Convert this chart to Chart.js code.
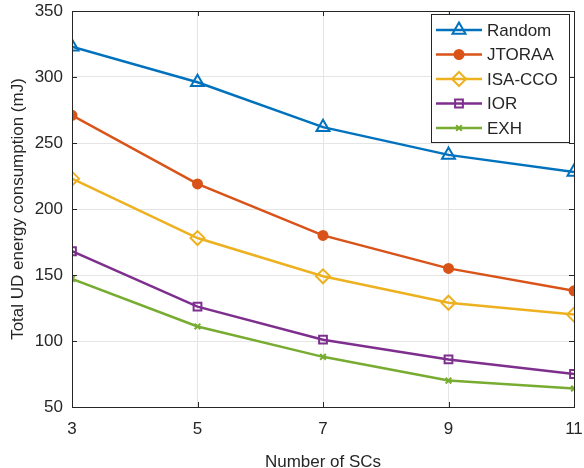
<!DOCTYPE html>
<html>
<head>
<meta charset="utf-8">
<script src="https://cdn.jsdelivr.net/npm/chart.js@4.4.1/dist/chart.umd.min.js"></script>
<style>
    html, body { margin: 0; padding: 0; background: #ffffff; }
    canvas { display: block; }
</style>
</head>
<body>
<canvas id="energy" width="584" height="468"></canvas>
<script>
var scCounts = [3, 5, 7, 9, 11];
var randomMJ = [323, 296, 262, 241, 228];
var jtoraaMJ = [271, 219, 180, 155, 138];
var isaCcoMJ = [223, 178, 149, 129, 120];
var iorMJ = [168, 126, 101, 86, 75];
var exhMJ = [147, 111, 88, 70, 64];

var xTicks = [3, 5, 7, 9, 11];
var yTicks = [50, 100, 150, 200, 250, 300, 350];

var axisColor = '#262626';
var fontFamily = '"Liberation Sans", Arial, Helvetica, sans-serif';

var toPoints = function(values) {
    return values.map(function(v, i) {
        return {x: scCounts[i], y: v};
    });
};

var makeSeries = function(label, values, color, style, radius, filled) {
    var fillColor = filled ? color : 'rgba(255,255,255,0)';
    return {
        label: label,
        data: toPoints(values),
        borderColor: color,
        backgroundColor: fillColor,
        borderWidth: 2.5,
        pointStyle: style,
        pointRadius: radius,
        pointHoverRadius: radius,
        pointBorderWidth: 2,
        pointBorderColor: color,
        pointBackgroundColor: fillColor,
        tension: 0,
        fill: false
    };
};

// box round the axes, inward tick marks, legend in the upper right
var matlabAxes = {
    id: 'matlabAxes',
    afterDatasetsDraw: function(chart) {
        var ctx = chart.ctx;
        var a = chart.chartArea;
        var xs = chart.scales.x, ys = chart.scales.y;
        ctx.save();
        ctx.strokeStyle = axisColor;
        ctx.lineWidth = 1;
        ctx.beginPath();
        ctx.rect(Math.round(a.left) + 0.5, Math.round(a.top) + 0.5,
            Math.round(a.right - a.left), Math.round(a.bottom - a.top));
        xTicks.forEach(function(t) {
            var px = Math.round(xs.getPixelForValue(t)) + 0.5;
            ctx.moveTo(px, a.bottom); ctx.lineTo(px, a.bottom - 5);
            ctx.moveTo(px, a.top); ctx.lineTo(px, a.top + 5);
        });
        yTicks.forEach(function(t) {
            var py = Math.round(ys.getPixelForValue(t)) + 0.5;
            ctx.moveTo(a.left, py); ctx.lineTo(a.left + 5, py);
            ctx.moveTo(a.right, py); ctx.lineTo(a.right - 5, py);
        });
        ctx.stroke();

        // legend
        var bx = 431, by = 14, bw = 138, bh = 128;
        ctx.fillStyle = '#ffffff';
        ctx.fillRect(bx, by, bw, bh);
        ctx.strokeRect(bx + 0.5, by + 0.5, bw, bh);
        ctx.font = '17px ' + fontFamily;
        ctx.textBaseline = 'middle';
        ctx.textAlign = 'left';
        chart.data.datasets.forEach(function(ds, i) {
            var y = by + 16 + i * 24.5;
            ctx.strokeStyle = ds.borderColor;
            ctx.lineWidth = ds.borderWidth;
            ctx.beginPath();
            ctx.moveTo(bx + 5, y);
            ctx.lineTo(bx + 51, y);
            ctx.stroke();
            ctx.fillStyle = ds.pointBackgroundColor;
            ctx.strokeStyle = ds.pointBorderColor;
            ctx.lineWidth = ds.pointBorderWidth;
            Chart.helpers.drawPoint(ctx, {
                pointStyle: ds.pointStyle,
                radius: ds.pointRadius,
                rotation: 0,
                borderWidth: ds.pointBorderWidth
            }, bx + 28, y);
            ctx.fillStyle = axisColor;
            ctx.fillText(ds.label, bx + 56, y + 1);
        });
        ctx.restore();
    }
};

var initChart = function() {
    var canvas = document.getElementById('energy');
    var datasets = [
        makeSeries('Random', randomMJ, '#0072BD', 'triangle', 7.5, false),
        makeSeries('JTORAA', jtoraaMJ, '#D95319', 'circle', 4.5, true),
        makeSeries('ISA-CCO', isaCcoMJ, '#EDB120', 'rectRot', 7, false),
        makeSeries('IOR', iorMJ, '#7E2F8E', 'rect', 5.5, false),
        makeSeries('EXH', exhMJ, '#77AC30', 'crossRot', 4, false)
    ];

    new Chart(canvas, {
        type: 'line',
        data: {datasets: datasets},
        options: {
            responsive: false,
            animation: false,
            devicePixelRatio: 1,
            layout: {padding: {top: 11, right: 10, left: 0, bottom: 0}},
            plugins: {
                legend: {display: false},
                tooltip: {enabled: false}
            },
            scales: {
                x: {
                    type: 'linear',
                    min: 3,
                    max: 11,
                    afterBuildTicks: function(scale) {
                        scale.ticks = xTicks.map(function(v) { return {value: v}; });
                    },
                    afterFit: function(scale) {
                        scale.height = 61;
                        scale.paddingLeft = 0;
                        scale.paddingRight = 0;
                    },
                    grid: {color: '#e5e5e5', lineWidth: 1, drawTicks: false},
                    border: {display: true, color: axisColor, width: 1},
                    ticks: {
                        color: axisColor,
                        padding: 12,
                        maxRotation: 0,
                        font: {family: fontFamily, size: 17}
                    },
                    title: {
                        display: true,
                        text: 'Number of SCs',
                        color: axisColor,
                        padding: {top: 0, bottom: 0},
                        font: {family: fontFamily, size: 17, lineHeight: 0.7}
                    }
                },
                y: {
                    type: 'linear',
                    min: 50,
                    max: 350,
                    afterBuildTicks: function(scale) {
                        scale.ticks = yTicks.map(function(v) { return {value: v}; });
                    },
                    afterFit: function(scale) {
                        scale.width = 72;
                        scale.paddingTop = 0;
                        scale.paddingBottom = 0;
                    },
                    grid: {color: '#e5e5e5', lineWidth: 1, drawTicks: false},
                    border: {display: true, color: axisColor, width: 1},
                    ticks: {
                        color: axisColor,
                        padding: 9,
                        font: {family: fontFamily, size: 17}
                    },
                    title: {
                        display: true,
                        text: 'Total UD energy consumption (mJ)',
                        color: axisColor,
                        padding: {top: 8, bottom: 0},
                        font: {family: fontFamily, size: 17, lineHeight: 1.2}
                    }
                }
            }
        },
        plugins: [matlabAxes]
    });
};

window.onload = initChart;
</script>
</body>
</html>
